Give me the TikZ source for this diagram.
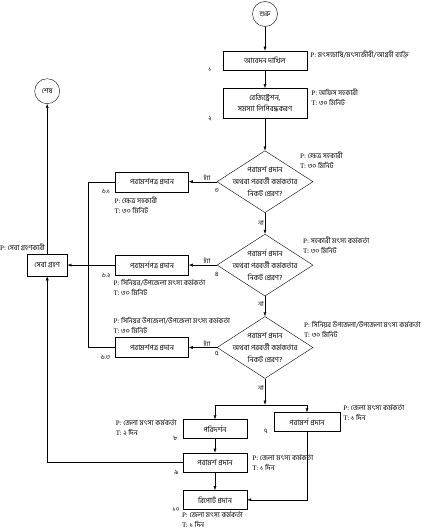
\documentclass[tikz,border=0pt]{standalone}
\usepackage{fontspec}
\setmainfont{Liberation Serif}
\newfontfamily\bn[Script=Bengali]{Hind Siliguri}
\usetikzlibrary{arrows.meta,positioning,shapes.geometric}
\newcommand{\pernote}[2]{P: {\bn #1}\\T: {\bn #2}}

\begin{document}
\begin{tikzpicture}[x=1pt, y=-1pt,
  stepbox/.style={draw, minimum height=19pt, minimum width=84pt, inner sep=1pt, align=center, font=\bn\fontsize{7.3}{11}\selectfont},
  sidebox/.style={stepbox, minimum width=73pt, minimum height=20pt},
  distbox/.style={stepbox, minimum width=64pt},
  ask/.style={draw, diamond, aspect=1.5, minimum width=96pt, minimum height=62pt, inner sep=-7pt, align=center, font=\bn\fontsize{7.3}{12}\selectfont},
  term/.style={draw, circle, minimum size=25pt, inner sep=0pt, font=\bn\fontsize{7}{8}\selectfont},
  lbl/.style={font=\bn\fontsize{6.5}{7}\selectfont, inner sep=1pt},
  note/.style={font=\fontsize{7}{10}\selectfont, align=left, inner sep=0pt},
  flow/.style={-{Latex[length=4pt, width=3pt]}}]
\useasboundingbox (0,0) rectangle (424,530);
\node[term] (start) at (265,14) {শুরু};
\node[stepbox, below=24pt of start] (b1) {আবেদন দাখিল};
\node[stepbox, below=18pt of b1, minimum height=30pt] (b2) {রেজিস্ট্রেশন,\\সমস্যা লিপিবদ্ধকরণ};
\node[ask, below=32pt of b2] (d3) {পরামর্শ প্রদান\\অথবা পরবর্তী কর্মকর্তার\\নিকট প্রেরণ?};
\node[ask, below=21pt of d3] (d4) {পরামর্শ প্রদান\\অথবা পরবর্তী কর্মকর্তার\\নিকট প্রেরণ?};
\node[ask, below=20pt of d4] (d5) {পরামর্শ প্রদান\\অথবা পরবর্তী কর্মকর্তার\\নিকট প্রেরণ?};
\coordinate[below=26pt of d5] (split);
\node[sidebox, left=28pt of d3] (b61) {পরামর্শপত্র প্রদান};
\node[sidebox, left=28pt of d4] (b62) {পরামর্শপত্র প্রদান};
\node[sidebox, left=28pt of d5] (b63) {পরামর্শপত্র প্রদান};
\node[stepbox, minimum width=40pt, minimum height=22pt, left=48pt of b62] (seba) {সেবা গ্রহণ};
\node[term, above=150pt of seba] (shesh) {শেষ};
\node[distbox] (b8) at (215,429) {পরিদর্শন};
\node[distbox, minimum width=66pt] (b7) at (307,422) {পরামর্শ প্রদান};
\node[distbox, below=14pt of b8] (b9) {পরামর্শ প্রদান};
\node[distbox, below=18pt of b9] (b10) {রিপোর্ট প্রদান};
\coordinate[left=27pt of b62.west] (bus);
\draw[flow] (start) -- (b1);
\draw[flow] (b1) -- (b2);
\draw[flow] (b2) -- (d3);
\draw[flow] (d3) -- node[lbl, above, pos=0.35] {হ্যাঁ} (b61);
\draw[flow] (d3) -- node[lbl, left, pos=0.5] {না} (d4);
\draw[flow] (d4) -- node[lbl, above, pos=0.35] {হ্যাঁ} (b62);
\draw[flow] (d4) -- node[lbl, left, pos=0.4] {না} (d5);
\draw[flow] (d5) -- node[lbl, above, pos=0.35] {হ্যাঁ} (b63);
\draw[flow] (d5) -- node[lbl, left, pos=0.35] {না} (split);
\draw[flow] (split) -| (b8);
\draw[flow] (split) -| (b7);
\draw[flow] (b8) -- (b9);
\draw[flow] (b9) -- (b10);
\draw[flow] (b7) |- (b10);
\draw[flow] (b9) -| (seba);
\draw (b61) -| (bus) |- (b63);
\draw[flow] (b62) -- (seba);
\draw[flow] (seba) -- (shesh);
\node[lbl, left=10pt of b1.south west] {১};
\node[lbl, left=10pt of b2.south west] {২};
\node[lbl, below=6pt of d3.west] {৩};
\node[lbl, below=6pt of d4.west] {৪};
\node[lbl, below=3pt of d5.west] {৫};
\node[lbl, left=4pt of b61.south west] {৬.১};
\node[lbl, left=4pt of b62.south west] {৬.২};
\node[lbl, left=4pt of b63.south west] {৬.৩};
\node[lbl, left=5pt of b7.south west] {৭};
\node[lbl, left=4pt of b8.south west] {৮};
\node[lbl, left=3pt of b9.south west] {৯};
\node[lbl, left=2pt of b10.south west] {১০};
\node[note, below right=0pt and 3pt of b1.north east] {P: {\bn মৎস্যচাষি/মৎস্যজীবী/আগ্রহী ব্যক্তি}};
\node[note, below right=1pt and 4pt of b2.north east] {\pernote{অফিস সহকারী}{৩০ মিনিট}};
\node[note, below right=1pt and 35pt of d3.north] {\pernote{ক্ষেত্র সহকারী}{৩০ মিনিট}};
\node[note, below right=3pt and 38pt of d4.north] {\pernote{সহকারী মৎস্য কর্মকর্তা}{৩০ মিনিট}};
\node[note, below right=5pt and 39pt of d5.north] {\pernote{সিনিয়র উপজেলা/উপজেলা মৎস্য কর্মকর্তা}{৩০ মিনিট}};
\node[note, below right=5pt and -1pt of b61.south west] {\pernote{ক্ষেত্র সহকারী}{৩০ মিনিট}};
\node[note, below right=4pt and -2pt of b62.south west] {\pernote{সিনিয়র/উপজেলা মৎস্য কর্মকর্তা}{৩০ মিনিট}};
\node[note, above right=4pt and -2pt of b63.north west] {\pernote{সিনিয়র উপজেলা/উপজেলা মৎস্য কর্মকর্তা}{৩০ মিনিট}};
\node[note, below left=0pt and 6pt of b8.north west] {\pernote{জেলা মৎস্য কর্মকর্তা}{২ দিন}};
\node[note, below right=-8pt and 3pt of b7.north east] {\pernote{জেলা মৎস্য কর্মকর্তা}{১ দিন}};
\node[note, below right=2pt and 5pt of b9.north east] {\pernote{জেলা মৎস্য কর্মকর্তা}{১ দিন}};
\node[note, below right=2pt and -1pt of b10.south west] {\pernote{জেলা মৎস্য কর্মকর্তা}{১ দিন}};
\node[note, above right=3pt and -27pt of seba.north west] {P: {\bn সেবা গ্রহণকারী}};
\end{tikzpicture}
\end{document}
